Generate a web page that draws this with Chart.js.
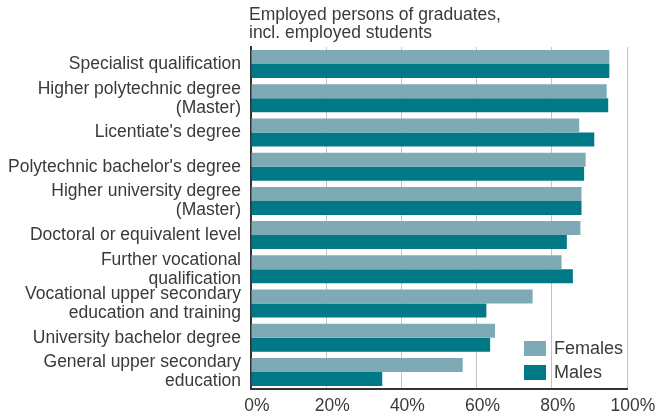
<!DOCTYPE html>
<html>
<head>
<meta charset="utf-8">
<script src="https://cdn.jsdelivr.net/npm/chart.js@4/dist/chart.umd.min.js"></script>
<style>
  html, body { margin: 0; padding: 0; background: #ffffff; }
  #wrap { width: 659px; height: 416px; }
</style>
</head>
<body>
<div id="wrap"><canvas id="c" width="659" height="416"></canvas></div>
<script>
const categories = [
  "Specialist qualification",
  ["Higher polytechnic degree", "(Master)"],
  "Licentiate's degree",
  "Polytechnic bachelor's degree",
  ["Higher university degree", "(Master)"],
  "Doctoral or equivalent level",
  ["Further vocational", "qualification"],
  ["Vocational upper secondary", "education and training"],
  "University bachelor degree",
  ["General upper secondary", "education"]
];
const females = [95.3, 94.6, 87.3, 89.0, 87.9, 87.6, 82.6, 74.9, 64.9, 56.3];
const males   = [95.3, 95.0, 91.3, 88.6, 87.9, 84.0, 85.6, 62.6, 63.6, 34.9];
const seriesNames = ["Females", "Males"];
const titleLines = ["Employed persons of graduates,", "incl. employed students"];
const xTicks = [0, 20, 40, 60, 80, 100];

const FONT = "'Liberation Sans', Arial, Helvetica, sans-serif";
const TEXT = "#3a3a3a";
const C_F = "#7eaab6";
const C_M = "#007886";

const titlePlugin = {
  id: "leftTitle",
  afterDraw(chart) {
    const ctx = chart.ctx;
    ctx.save();
    ctx.fillStyle = TEXT;
    ctx.font = "17.5px " + FONT;
    ctx.textAlign = "left";
    ctx.textBaseline = "middle";
    const x = chart.chartArea.left - 2;
    titleLines.forEach((t, i) => ctx.fillText(t, x, 15 + i * 18));
    ctx.restore();
  }
};

const legendPlugin = {
  id: "insideLegend",
  afterDatasetsDraw(chart) {
    const ctx = chart.ctx;
    const a = chart.chartArea;
    ctx.save();
    ctx.font = "18px " + FONT;
    ctx.textAlign = "left";
    ctx.textBaseline = "middle";
    chart.data.datasets.forEach((ds, i) => {
      const x = a.right - 103;
      const y = a.bottom - 48 + i * 24;
      ctx.fillStyle = ds.backgroundColor;
      ctx.fillRect(x, y, 22, 15);
      ctx.fillStyle = TEXT;
      ctx.fillText(ds.label, x + 30, y + 8);
    });
    ctx.restore();
  }
};

new Chart(document.getElementById("c"), {
  type: "bar",
  data: {
    labels: categories,
    datasets: [
      { label: seriesNames[0], data: females, backgroundColor: C_F, borderWidth: 0 },
      { label: seriesNames[1], data: males, backgroundColor: C_M, borderWidth: 0 }
    ]
  },
  options: {
    indexAxis: "y",
    responsive: false,
    animation: false,
    layout: { padding: { top: 47, right: 32, left: 0, bottom: 0 } },
    datasets: { bar: { categoryPercentage: 0.82, barPercentage: 1.0 } },
    plugins: {
      legend: { display: false },
      title: { display: false },
      tooltip: { enabled: false }
    },
    scales: {
      x: {
        min: 0, max: 100,
        afterBuildTicks(scale) { scale.ticks = xTicks.map(v => ({ value: v })); },
        afterFit(scale) { scale.height = 27; },
        ticks: {
          callback: v => v + "%",
          color: TEXT,
          font: { family: FONT, size: 17.5 },
          padding: 7,
          labelOffset: 6,
          maxRotation: 0,
          autoSkip: false
        },
        grid: {
          drawTicks: false,
          color: ctx => (ctx.tick && ctx.tick.value === 0) ? "rgba(0,0,0,0)" : "#c4c4c4",
          lineWidth: 1
        },
        border: { display: true, color: "#333333", width: 2 }
      },
      y: {
        afterFit(scale) { scale.width = 251; },
        ticks: {
          color: TEXT,
          font: { family: FONT, size: 17.5, lineHeight: 1.08 },
          padding: 10,
          autoSkip: false
        },
        grid: { display: false, drawTicks: false },
        border: { display: true, color: "#333333", width: 2 }
      }
    }
  },
  plugins: [titlePlugin, legendPlugin]
});
</script>
</body>
</html>
